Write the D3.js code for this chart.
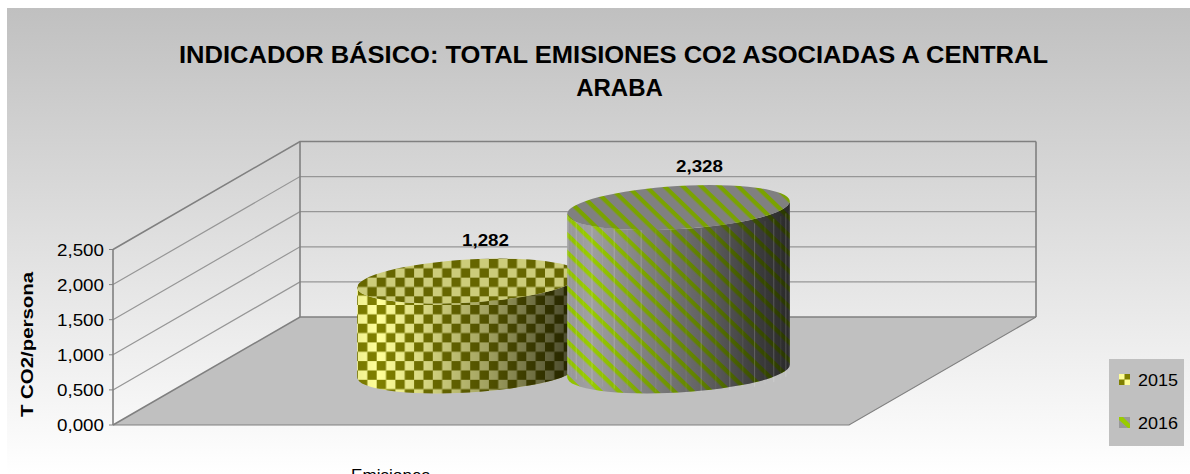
<!DOCTYPE html>
<html><head><meta charset="utf-8">
<script src="https://cdn.jsdelivr.net/npm/d3@7"></script>
<style>html,body{margin:0;padding:0;background:#fff;overflow:hidden}svg{display:block}text{font-family:"Liberation Sans",Arial,sans-serif;fill:#000}</style>
</head><body><div id="c"></div>
<script>
const titleLines=["INDICADOR BÁSICO: TOTAL EMISIONES CO2 ASOCIADAS A CENTRAL","ARABA"];
const years=["2015","2016"];
const values=[1.282,2.328];
const valueLabels=["1,282","2,328"];
const ticks=[0,0.5,1,1.5,2,2.5];
const tickLabels=["0,000","0,500","1,000","1,500","2,000","2,500"];
const yTitle="T CO2/persona";
const category="Emisiones";

const W=1190,H=474;
const svg=d3.select("#c").append("svg").attr("width",W).attr("height",H);
const defs=svg.append("defs");
const y=d3.scaleLinear().domain([0,2.5]).range([425,249.5]);
const dy=-108, xFront=113, xFrontR=849, xBack=300, xBackR=1036;
const fit=(s,len)=>s.attr("textLength",len).attr("lengthAdjust","spacingAndGlyphs");

// background gradient
const bg=defs.append("linearGradient").attr("id","bg").attr("gradientUnits","userSpaceOnUse").attr("x1",0).attr("x2",0).attr("y1",8).attr("y2",474);
bg.append("stop").attr("offset",0).attr("stop-color","#c0c0c0");
bg.append("stop").attr("offset",1).attr("stop-color","#ffffff");
svg.append("rect").attr("x",7).attr("y",8).attr("width",1183).attr("height",466).attr("fill","url(#bg)");

// patterns
function checks(id,light,dark,py){
  const s=18.7,c=s/2;
  const p=defs.append("pattern").attr("id",id).attr("patternUnits","userSpaceOnUse").attr("width",s).attr("height",s).attr("x",2.7).attr("y",py);
  p.append("rect").attr("width",s).attr("height",s).attr("fill",light);
  p.append("rect").attr("width",c).attr("height",c).attr("fill",dark);
  p.append("rect").attr("x",c).attr("y",c).attr("width",c).attr("height",c).attr("fill",dark);
}
function stripes(id,grey,green){
  const s=12.8;
  const p=defs.append("pattern").attr("id",id).attr("patternUnits","userSpaceOnUse").attr("width",s).attr("height",s).attr("patternTransform","rotate(44 570 220)");
  p.append("rect").attr("width",s).attr("height",s).attr("fill",grey);
  p.append("rect").attr("width",s).attr("height",4.3).attr("fill",green);
}
checks("chkSide","#ffff99","#808000",5.8);
checks("chkTop","#cccc7a","#666600",-2.85);
stripes("strSide","#a0a0a0","#99cc00");
stripes("strTop","#808080","#7aa300");
const shade=defs.append("linearGradient").attr("id","shade");
[[0,.06],[.1,0],[.35,.2],[.6,.38],[.85,.62],[1,.74]].forEach(s=>shade.append("stop").attr("offset",s[0]).attr("stop-color","#000").attr("stop-opacity",s[1]));

// walls and floor
const v0=y(0),v1=y(2.5),wallTop=v1+dy,wallBottom=v0+dy;
svg.append("path").attr("d",`M${xFront},${v0}L${xBack},${wallBottom}L${xBackR},${wallBottom}L${xFrontR},${v0}Z`).attr("fill","#c0c0c0");
ticks.forEach((t,i)=>{
  const yy=y(t), strong=(i===0||i===ticks.length-1);
  svg.append("path").attr("fill","none").attr("stroke",strong?"#808080":"#969696").attr("stroke-width",strong?1.6:1.2)
     .attr("d",`M${xFront},${yy}L${xBack},${yy+dy}L${xBackR},${yy+dy}`);
  svg.append("line").attr("x1",xFront-4).attr("x2",xFront).attr("y1",yy).attr("y2",yy).attr("stroke","#808080");
  fit(svg.append("text").attr("x",57).attr("y",yy+6).style("font-size","16.5px").text(tickLabels[i]),47);
});
svg.append("path").attr("fill","none").attr("stroke","#808080").attr("stroke-width",1.6)
   .attr("d",`M${xFront},${v1}V${v0}M${xBack},${wallTop}V${wallBottom}M${xBackR},${wallTop}V${wallBottom}`);
svg.append("path").attr("fill","none").attr("stroke","#808080").attr("stroke-width",1.2)
   .attr("d",`M${xFront},${v0}H${xFrontR}L${xBackR},${wallBottom}`);

// cylinders
const rx=111.5, ry=21.5, tilt=-3.4, rad=tilt*Math.PI/180, baseCy=371;
const cyl=[{cx:468.5,ids:["chkSide","chkTop"],facet:false},{cx:678.5,ids:["strSide","strTop"],facet:true}];
const hx=Math.hypot(rx*Math.cos(rad),ry*Math.sin(rad));
const tt=Math.atan2(-ry*Math.sin(rad),rx*Math.cos(rad));
const hy=rx*Math.cos(tt)*Math.sin(rad)+ry*Math.sin(tt)*Math.cos(rad);
cyl.forEach((c,i)=>{
  const h=v0-y(values[i]), tyC=baseCy-h;
  const lx=c.cx-hx, rr=c.cx+hx;
  const g=svg.append("g");
  const d=`M${lx},${tyC-hy}L${lx},${baseCy-hy}A${rx},${ry} ${tilt} 0 0 ${rr},${baseCy+hy}L${rr},${tyC+hy}A${rx},${ry} ${tilt} 0 1 ${lx},${tyC-hy}Z`;
  g.append("path").attr("d",d).attr("fill",`url(#${c.ids[0]})`);
  g.append("path").attr("d",d).attr("fill","url(#shade)");
  if(c.facet){
    d3.range(1,23).forEach(k=>{
      const fx=c.cx-rx*Math.cos(Math.PI*k/23), fy=Math.sin(Math.PI*k/23)*ry;
      g.append("line").attr("x1",fx).attr("x2",fx).attr("y1",tyC+fy).attr("y2",baseCy+fy)
       .attr("stroke","#fff").attr("stroke-opacity",k%2?.25:.1).attr("stroke-width",.8);
    });
  }
  const t0x=c.cx-rx*Math.cos(rad), t0y=tyC-rx*Math.sin(rad), t1x=c.cx+rx*Math.cos(rad), t1y=tyC+rx*Math.sin(rad);
  g.append("path").attr("d",`M${t0x},${t0y}A${rx},${ry} ${tilt} 1 1 ${t1x},${t1y}A${rx},${ry} ${tilt} 1 1 ${t0x},${t0y}Z`).attr("fill",`url(#${c.ids[1]})`);
  const lab=svg.append("text").attr("x",[462,676][i]).attr("y",[246,172][i]).style("font-size","16.5px").style("font-weight","bold").text(valueLabels[i]);
  fit(lab,47);
});

// title
fit(svg.append("text").attr("x",179).attr("y",63).style("font-size","24px").style("font-weight","bold").text(titleLines[0]),869);
svg.append("text").attr("x",619.5).attr("y",96).attr("text-anchor","middle").style("font-size","24px").style("font-weight","bold").text(titleLines[1]);
// axis titles
fit(svg.append("text").attr("transform","translate(33,417) rotate(-90)").style("font-size","17px").style("font-weight","bold").text(yTitle),145);
fit(svg.append("text").attr("x",351).attr("y",481).style("font-size","16.5px").text(category),79);

// legend
svg.append("rect").attr("x",1109).attr("y",359).attr("width",75).attr("height",87).attr("fill","#c0c0c0");
const lp=defs.append("pattern").attr("id","lgA").attr("patternUnits","userSpaceOnUse").attr("width",11).attr("height",11).attr("x",1119).attr("y",374);
lp.append("rect").attr("width",11).attr("height",11).attr("fill","#808000");
lp.append("rect").attr("width",5.5).attr("height",5.5).attr("fill","#ffff99");
lp.append("rect").attr("x",5.5).attr("y",5.5).attr("width",5.5).attr("height",5.5).attr("fill","#ffff99");
years.forEach((yr,i)=>{
  const ky=374+i*43;
  if(i===0) svg.append("rect").attr("x",1119).attr("y",ky).attr("width",11).attr("height",11).attr("fill","url(#lgA)");
  else{
    svg.append("rect").attr("x",1119).attr("y",ky).attr("width",11).attr("height",11).attr("fill","#999");
    svg.append("path").attr("d",`M1119,${ky}H1123L1130,${ky+7}V${ky+11}H1128L1119,${ky+3}Z`).attr("fill","#99cc00");
  }
  fit(svg.append("text").attr("x",1138).attr("y",ky+12).style("font-size","16.5px").text(yr),40);
});
</script></body></html>
